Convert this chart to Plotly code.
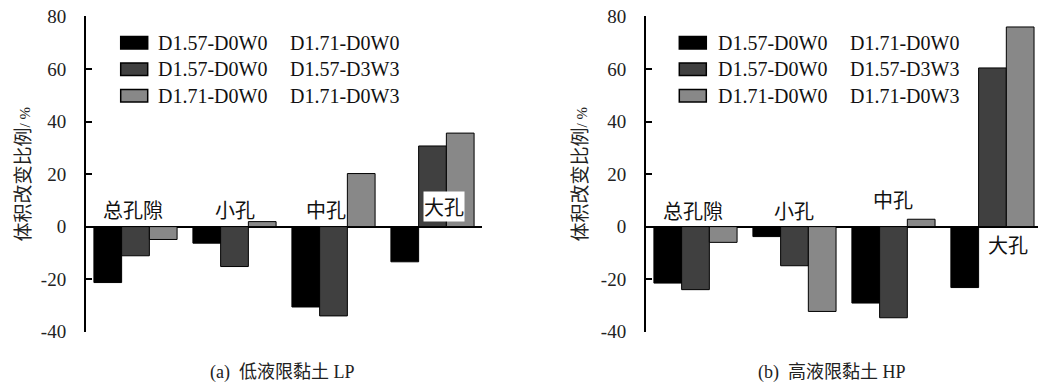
import plotly.graph_objects as go

# ---------------- data ----------------
categories = ["总孔隙", "小孔", "中孔", "大孔"]
series_names = ["D1.57-D0W0   D1.71-D0W0",
                "D1.57-D0W0   D1.57-D3W3",
                "D1.71-D0W0   D1.71-D0W3"]
legend_left = ["D1.57-D0W0", "D1.57-D0W0", "D1.71-D0W0"]
legend_right = ["D1.71-D0W0", "D1.57-D3W3", "D1.71-D0W3"]

lp_s1 = [-21.3, -6.3, -30.6, -13.4]
lp_s2 = [-11.1, -15.2, -34.0, 30.7]
lp_s3 = [-4.9, 1.9, 20.2, 35.6]

hp_s1 = [-21.5, -3.8, -29.1, -23.2]
hp_s2 = [-24.0, -14.9, -34.7, 60.4]
hp_s3 = [-6.0, -32.3, 2.8, 76.0]

y_ticks = [-40, -20, 0, 20, 40, 60, 80]
y_ticktext = ["-40", "-20", "0", "20", "40", "60", "80"]
subtitles = ["(a)  <span style='font-family:Noto Sans CJK SC'>低液限黏土</span> LP",
             "(b)  <span style='font-family:Noto Sans CJK SC'>高液限黏土</span> HP"]
y_title = "体积改变比例<span style='font-family:Liberation Serif;font-size:15px'>/ %</span>"

colors = ["#000000", "#404040", "#888888"]

W, H = 1038, 383
CJK = "Noto Sans CJK SC"
SERIF = "Liberation Serif"


def px(x):
    return x / W


def py(y):
    return 1 - y / H


fig = go.Figure()
panels = [([lp_s1, lp_s2, lp_s3], "x", "y"), ([hp_s1, hp_s2, hp_s3], "x2", "y2")]
for vals, xa, ya in panels:
    for i, v in enumerate(vals):
        fig.add_trace(go.Bar(
            x=list(range(len(categories))), y=v, name=series_names[i],
            marker=dict(color=colors[i], line=dict(color="#000000", width=1)),
            xaxis=xa, yaxis=ya, showlegend=False, hoverinfo="skip"))

ydom = [0.134, 0.957]
common_y = dict(range=[-40, 80], tickvals=y_ticks, ticktext=y_ticktext,
                showline=True, linecolor="#000000", linewidth=2,
                ticks="inside", ticklen=6, tickwidth=2, tickcolor="#000000",
                ticklabelstandoff=14, automargin=False,
                tickfont=dict(family=SERIF, size=19, color="#222222"),
                showgrid=False, zeroline=True, zerolinecolor="#000000",
                zerolinewidth=2, domain=ydom)
common_x = dict(showticklabels=False, showgrid=False, zeroline=False,
                showline=False, ticks="", automargin=False)

fig.update_layout(
    template="none",
    width=W, height=H, margin=dict(l=0, r=0, t=0, b=0, pad=0),
    plot_bgcolor="white", paper_bgcolor="white",
    barmode="group", bargap=0.16, bargroupgap=0,
    xaxis=dict(domain=[px(86), px(482)], range=[-0.5, 3.5], **common_x),
    yaxis=dict(anchor="x", **common_y),
    xaxis2=dict(domain=[px(646), 1.0], range=[-0.5, 3.46], **common_x),
    yaxis2=dict(anchor="x2", **common_y),
)

annotations = []
shapes = []

# legends
for base, tx1, tx2, bx in [(0, 156, 288.3, 120.7), (1, 715.7, 848.3, 679.3)]:
    for r, yc in enumerate([42.7, 69.3, 95.7]):
        shapes.append(dict(type="rect", xref="paper", yref="paper",
                           x0=px(bx), x1=px(bx + 27), y0=py(yc + 6.3), y1=py(yc - 6.3),
                           fillcolor=colors[r], line=dict(color="#000000", width=1.5)))
        annotations.append(dict(xref="paper", yref="paper", x=px(tx1), y=py(yc),
                                text=legend_left[r], showarrow=False, xanchor="left",
                                yanchor="middle", font=dict(family=SERIF, size=20, color="#111111")))
        annotations.append(dict(xref="paper", yref="paper", x=px(tx2), y=py(yc),
                                text=legend_right[r], showarrow=False, xanchor="left",
                                yanchor="middle", font=dict(family=SERIF, size=20, color="#111111")))

# category labels
lab_left = [(0, -2.5, 6.4, None), (1, 0, 6.4, None), (2, -7.7, 6.4, None), (3, 11, 7.8, "white")]
lab_right = [(0, -2, 6.0, None), (1, 0, 6.0, None), (2, 0, 10.2, None), (3, 16, -6.7, None)]
for labs, xr, yr in [(lab_left, "x", "y"), (lab_right, "x2", "y2")]:
    for ci, xs, yv, bg in labs:
        a = dict(xref=xr, yref=yr, x=ci, y=yv, xshift=xs, text=categories[ci],
                 showarrow=False, xanchor="center", yanchor="middle",
                 font=dict(family=CJK, size=20, color="#111111"))
        if bg:
            a["bgcolor"] = bg
            a["borderpad"] = 0
        annotations.append(a)

# y titles
for xc in [21.5, 578.5]:
    annotations.append(dict(xref="paper", yref="paper", x=px(xc), y=py(175),
                            text=y_title, textangle=-90, showarrow=False,
                            xanchor="center", yanchor="middle",
                            font=dict(family=CJK, size=19, color="#222222")))

# subtitles
for xc, t in zip([282, 832], subtitles):
    annotations.append(dict(xref="paper", yref="paper", x=px(xc), y=py(369.5),
                            text=t, showarrow=False, xanchor="center", yanchor="middle",
                            font=dict(family=SERIF, size=18, color="#222222")))

fig.update_layout(annotations=annotations, shapes=shapes)
fig.write_html(
    "out.html",
    config={"displayModeBar": False},
    post_script="document.documentElement.style.margin='0';"
                "document.body.style.margin='0';"
                "document.body.style.overflow='hidden';",
)
